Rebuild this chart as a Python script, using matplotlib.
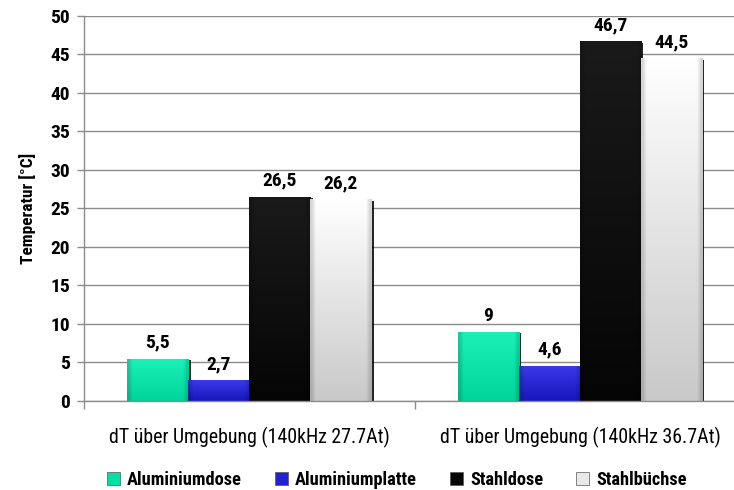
import numpy as np
import matplotlib
matplotlib.use("Agg")
import matplotlib.pyplot as plt
import matplotlib.patheffects as pe
from matplotlib.patches import Patch
from matplotlib.colors import to_rgb

plt.rcParams['font.family'] = ['Roboto Condensed', 'Liberation Sans Narrow', 'Asap Condensed', 'DejaVu Sans']

categories = ["dT über Umgebung (140kHz 27.7At)", "dT über Umgebung (140kHz 36.7At)"]
series_names = ["Aluminiumdose", "Aluminiumplatte", "Stahldose", "Stahlbüchse"]
aluminiumdose = [5.5, 9.0]
aluminiumplatte = [2.7, 4.6]
stahldose = [26.5, 46.7]
stahlbuechse = [26.2, 44.5]
y_ticks = [0, 5, 10, 15, 20, 25, 30, 35, 40, 45, 50]
y_label = "Temperatur [°C]"

series_values = [aluminiumdose, aluminiumplatte, stahldose, stahlbuechse]
# (top colour, bottom colour) for the shaded bar fills
shades = [("#1cf2b8", "#00d49a"),
          ("#3a3aea", "#1616bc"),
          ("#1a1a1a", "#050505"),
          ("#ffffff", "#c9c9c9")]
base_colors = ["#00e0a6", "#2222d4", "#070707", "#e8e8e8"]

fig = plt.figure(figsize=(7.34, 4.90), dpi=100)
ax = fig.add_axes([0.1144, 0.1816, 0.9012, 0.7863])

x = np.arange(len(categories))
w = 0.1845
offsets = (np.arange(4) - 1.5) * w

grid_col = "#8c8c8c"
ax.set_axisbelow(True)
ax.yaxis.grid(True, color=grid_col, linewidth=1.0)

def vertical_gradient(top, bottom, n=256):
    t = np.linspace(0, 1, n)[:, None]
    a, b = np.array(to_rgb(top)), np.array(to_rgb(bottom))
    col = a[None, :] * (1 - t) + b[None, :] * t
    img = np.repeat(col[:, None, :], 16, axis=1)
    # soft bevel on the left and right edges
    edge = np.ones(16)
    edge[0] = edge[-1] = 0.85
    img = img * edge[None, :, None]
    return np.clip(img, 0, 1)

for i, vals in enumerate(series_values):
    bars = ax.bar(x + offsets[i], vals, width=w, color=base_colors[i],
                  linewidth=0, zorder=2,
                  path_effects=[pe.SimplePatchShadow(offset=(1.6, -1.2),
                                                     shadow_rgbFace="black", alpha=0.85),
                                pe.Normal()])
    top, bottom = shades[i]
    grad = vertical_gradient(top, bottom)
    for rect, v in zip(bars, vals):
        x0, y0 = rect.get_x(), rect.get_y()
        x1, y1 = x0 + rect.get_width(), y0 + rect.get_height()
        im = ax.imshow(grad, extent=[x0, x1, y0, y1], origin="upper",
                       aspect="auto", zorder=2.5, interpolation="bilinear")
        im.set_clip_path(rect)
        ax.annotate(f"{v:g}".replace(".", ","), (rect.get_x() + rect.get_width() / 2, y1),
                    xytext=(0, 5), textcoords="offset points", ha="center", va="bottom",
                    fontsize=14, fontweight="bold", color="black")

ax.set_xlim(-0.5, len(categories) - 0.5)
ax.set_ylim(0, 50)
ax.set_yticks(y_ticks)
ax.set_yticklabels([str(t) for t in y_ticks], fontsize=14, fontweight="bold")
ax.set_ylabel(y_label, fontsize=12.5, fontweight="bold", labelpad=10)

ax.set_xticks(x)
ax.set_xticklabels(categories, fontsize=14.3)
ax.set_xticks(np.arange(len(categories) + 1) - 0.5, minor=True)
ax.tick_params(axis="x", which="major", length=0, pad=19)
ax.tick_params(axis="x", which="minor", length=6, color=grid_col, width=1.0)
ax.tick_params(axis="y", length=5, color=grid_col, width=1.0, pad=5)

for side in ["top", "right"]:
    ax.spines[side].set_visible(False)
for side in ["left", "bottom"]:
    ax.spines[side].set_color(grid_col)
    ax.spines[side].set_linewidth(1.0)

handles = [Patch(facecolor=c, edgecolor="#555555", linewidth=0.5) for c in base_colors]
fig.legend(handles, series_names, loc="center", bbox_to_anchor=(397 / 734, 1 - 480 / 490),
           ncol=4, frameon=False, handlelength=0.7, handleheight=0.7,
           handletextpad=0.4, columnspacing=1.8,
           prop={"size": 13.2, "weight": "bold"})

fig.savefig("out.png", dpi=100)
